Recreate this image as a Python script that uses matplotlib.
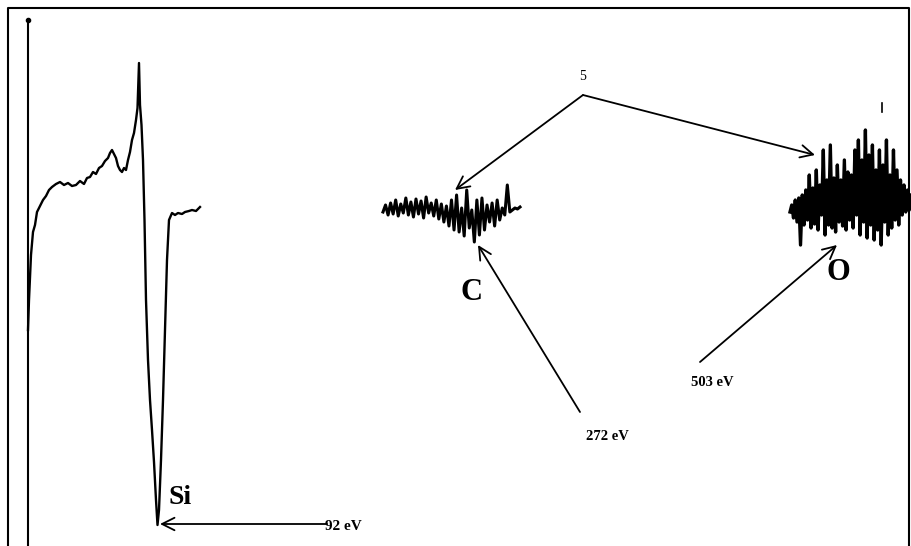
import numpy as np
import matplotlib.pyplot as plt

# Datos (coordenadas de la imagen escaneada, y hacia abajo)
si_x = [28, 29, 31, 33, 35, 37, 40, 43, 46, 49, 52, 56, 60, 64, 68, 72, 76, 80, 84, 87, 90, 93,
        96, 99, 102, 105, 108, 110, 112, 114, 116, 118, 120, 122, 124, 126, 128, 130, 132, 134,
        136, 137.5, 139, 140, 141.5, 143, 144.5, 146, 148, 150, 152, 154, 156, 157.5, 159, 161,
        163, 165, 167, 169, 172, 175, 178, 182, 185, 189, 192, 196, 200]
si_y = [330, 300, 255, 232, 225, 212, 206, 200, 196, 190, 187, 184, 182, 185, 183, 186, 185, 181, 184, 178,
        177, 172, 174, 168, 166, 161, 158, 153, 150, 154, 158, 166, 170, 172, 168, 170, 160, 152, 140, 133,
        120, 108, 63, 105, 125, 160, 220, 300, 360, 400, 430, 462, 500, 525, 510, 460,
        400, 330, 260, 220, 213, 215, 213, 214, 212, 211, 210, 211, 207]

c_y = [212, 205, 215, 203, 214, 200, 216, 204, 213, 198, 215, 202, 217, 199, 214, 201, 218, 197,
       213, 203, 216, 200, 219, 204, 222, 206, 226, 200, 230, 195, 232, 208, 236, 190, 228, 210,
       242, 200, 235, 198, 230, 205, 222, 203, 226, 200, 220, 208, 215, 185, 212, 210, 208, 209, 207]

o_y = [212, 205, 218, 200, 222, 198, 245, 195, 225, 190, 220, 175, 228, 188, 224, 170, 230, 185,
       215, 150, 235, 180, 225, 145, 228, 178, 232, 165, 222, 180, 226, 160, 230, 172, 220, 175,
       228, 150, 215, 140, 235, 160, 222, 130, 238, 155, 225, 145, 240, 170, 230, 150, 245, 165,
       222, 140, 235, 175, 228, 150, 220, 170, 225, 180, 215, 185, 212, 190, 210, 195]

fig = plt.figure(figsize=(9.11, 5.46), dpi=100)
ax = fig.add_axes([0, 0, 1, 1])
ax.set_xlim(0, 911)
ax.set_ylim(546, 0)
ax.axis('off')

# marco
ax.plot([8, 8, 909, 909], [546, 8, 8, 546], color='black', lw=1.5)
# eje vertical
ax.plot([28, 28], [20, 546], color='black', lw=1.5)
ax.plot([28], [20], 'o', color='black', ms=3)

ax.plot(si_x, si_y, color='black', lw=1.7)
ax.plot(np.linspace(383, 520, len(c_y)), c_y, color='black', lw=2.2)
ax.plot(np.linspace(790, 911, len(o_y)), o_y, color='black', lw=2.4)
ax.plot([882, 882], [103, 112], color='black', lw=1.2)

serif = ['Liberation Serif', 'DejaVu Serif']
ax.text(180, 497, 'Si', fontsize=20, fontweight='bold', family=serif, ha='center', va='center')
ax.text(472, 292, 'C', fontsize=22, fontweight='bold', family=serif, ha='center', va='center')
ax.text(838, 273, 'O', fontsize=22, fontweight='bold', family=serif, ha='center', va='center')
ax.text(583, 76, '5', fontsize=10, family=serif, ha='center', va='center')

ap = dict(arrowstyle='->,head_length=0.9,head_width=0.45', color='black', lw=1.3, shrinkA=0, shrinkB=0)
ax.annotate('', xy=(160, 524), xytext=(327, 524), arrowprops=ap)
ax.text(325, 527, '92 eV', fontsize=11, fontweight='bold', family=serif, ha='left', va='center')

ax.annotate('', xy=(455, 190), xytext=(583, 95), arrowprops=ap)
ax.annotate('', xy=(815, 155), xytext=(583, 95), arrowprops=ap)

ax.annotate('', xy=(478, 245), xytext=(580, 412), arrowprops=ap)
ax.text(607, 437, '272 eV', fontsize=10.5, fontweight='bold', family=serif, ha='center', va='center')

ax.annotate('', xy=(837, 245), xytext=(700, 362), arrowprops=ap)
ax.text(712, 382, '503 eV', fontsize=10.5, fontweight='bold', family=serif, ha='center', va='center')

fig.savefig('out.png', dpi=100)
